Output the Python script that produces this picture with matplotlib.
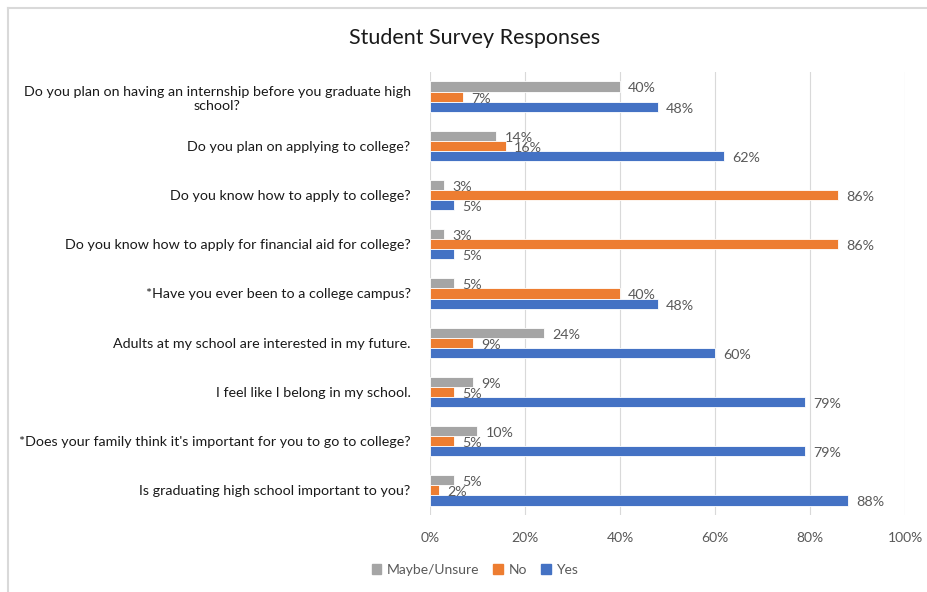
import numpy as np
import matplotlib.pyplot as plt
from matplotlib.lines import Line2D

plt.rcParams['font.family'] = ['Lato', 'DejaVu Sans']

# Survey questions (top to bottom) and response shares in percent
preguntas = [
    "Do you plan on having an internship before you graduate high\nschool?",
    "Do you plan on applying to college?",
    "Do you know how to apply to college?",
    "Do you know how to apply for financial aid for college?",
    "*Have you ever been to a college campus?",
    "Adults at my school are interested in my future.",
    "I feel like I belong in my school.",
    "*Does your family think it's important for you to go to college?",
    "Is graduating high school important to you?",
]
maybe = [40, 14, 3, 3, 5, 24, 9, 10, 5]
no = [7, 16, 86, 86, 40, 9, 5, 5, 2]
yes = [48, 62, 5, 5, 48, 60, 79, 79, 88]

series = [("Maybe/Unsure", maybe, "#A5A5A5"),
          ("No", no, "#ED7D31"),
          ("Yes", yes, "#4472C4")]

fig = plt.figure(figsize=(9.28, 5.92), dpi=100)
ax = fig.add_axes([430/928, 1 - 515/592, 475/928, 443/592])

# Grupos: posicion 0 arriba
pos = np.arange(len(preguntas))
alto = 0.205
for i, (nombre, vals, color) in enumerate(series):
    y = pos + (i - 1) * alto
    ax.barh(y, vals, height=alto, color=color, edgecolor='white', linewidth=0.6, label=nombre, zorder=3)
    for yy, v in zip(y, vals):
        ax.text(v + 1.7, yy + 0.04, f"{v}%", va='center', ha='left', fontsize=10.3, color='#595959', zorder=4)

ax.set_ylim(len(preguntas) - 0.5, -0.5)
ax.set_xlim(0, 100)
ax.set_xticks(np.arange(0, 101, 20))
ax.set_xticklabels([f"{t}%" for t in range(0, 101, 20)], fontsize=10, color='#595959')
ax.set_yticks(pos)
ax.set_yticklabels(preguntas, fontsize=10.3, color='#1a1a1a', multialignment='center')
ax.tick_params(axis='both', length=0)
ax.tick_params(axis='y', pad=14)
ax.tick_params(axis='x', pad=12)
ax.grid(axis='x', color='#D9D9D9', linewidth=0.8, zorder=0)
for s in ax.spines.values():
    s.set_visible(False)

fig.suptitle("Student Survey Responses", x=475/928, y=1 - 38/592, va='center', fontsize=15.5, color='#1a1a1a')

handles = [plt.Rectangle((0, 0), 1, 1, color=c) for _, _, c in series]
fig.legend(handles, [n for n, _, _ in series], loc='center', bbox_to_anchor=(475/928, 1 - 570/592),
           ncol=3, frameon=False, fontsize=10, labelcolor='#595959', handlelength=0.7, handleheight=0.7,
           handletextpad=0.4, columnspacing=1.0)

# Borde del area del grafico
fig.add_artist(Line2D([8/928, 8/928], [0, 1 - 8/592], transform=fig.transFigure, color='#D9D9D9', linewidth=1.5))
fig.add_artist(Line2D([8/928, 1], [1 - 8/592, 1 - 8/592], transform=fig.transFigure, color='#D9D9D9', linewidth=1.5))

fig.savefig("out.png", dpi=100)
